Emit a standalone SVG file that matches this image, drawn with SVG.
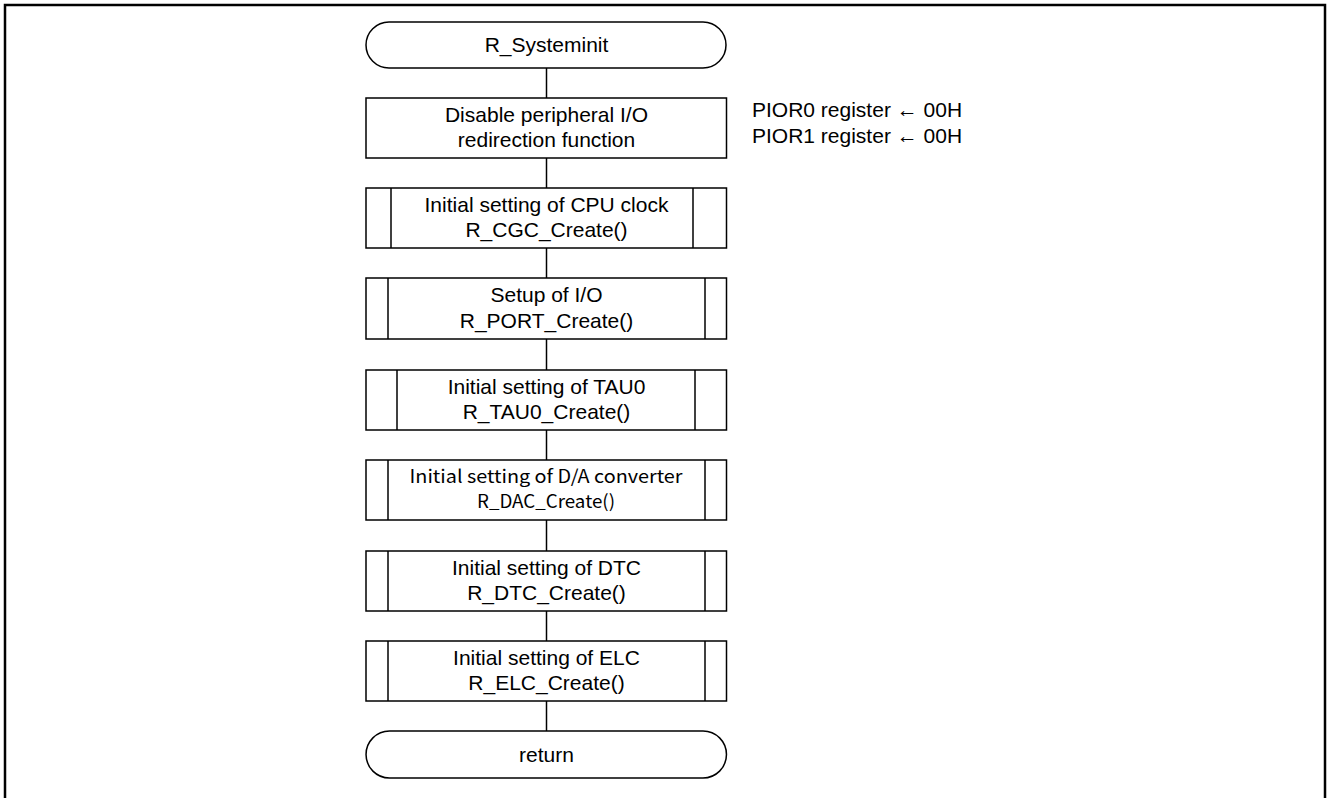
<svg xmlns="http://www.w3.org/2000/svg" width="1328" height="798" viewBox="0 0 1328 798">
<style>
.frame{fill:none;stroke:#000;stroke-width:2.5}
.box{fill:#fff;stroke:#000;stroke-width:1.5}
.ln{fill:none;stroke:#000;stroke-width:1.5}
text{font-family:"Liberation Sans",Arial,sans-serif;font-size:21px;fill:#000}
.c{text-anchor:middle}
.g{font-family:"Noto Sans CJK JP","DejaVu Sans",sans-serif;font-size:18px}
</style>
<rect x="5" y="5" width="1320" height="810" fill="#fff" class="frame"/>
<g id="connectors">
<line class="ln" x1="546.5" y1="68" x2="546.5" y2="98"/>
<line class="ln" x1="546.5" y1="158" x2="546.5" y2="188"/>
<line class="ln" x1="546.5" y1="248" x2="546.5" y2="278"/>
<line class="ln" x1="546.5" y1="339" x2="546.5" y2="370"/>
<line class="ln" x1="546.5" y1="430" x2="546.5" y2="460"/>
<line class="ln" x1="546.5" y1="520" x2="546.5" y2="551"/>
<line class="ln" x1="546.5" y1="611" x2="546.5" y2="641"/>
<line class="ln" x1="546.5" y1="701" x2="546.5" y2="731"/>
</g>
<g id="start">
<path class="box" d="M389,22 H703 A23,23 0 0 1 703,68 H389 A23,23 0 0 1 389,22 Z"/>
<text class="c" x="546.5" y="52">R_Systeminit</text>
</g>
<g id="disable">
<rect class="box" x="366" y="98" width="360.5" height="60"/>
<text class="c" x="546.5" y="121.5">Disable peripheral I/O</text>
<text class="c" x="546.5" y="146.5">redirection function</text>
</g>
<g id="pior-note">
<text x="752" y="117">PIOR0 register  ← 00H</text>
<text x="752" y="142.5">PIOR1 register  ← 00H</text>
</g>
<g id="cgc">
<rect class="box" x="366" y="188" width="360.5" height="60"/>
<line class="ln" x1="391" y1="188" x2="391" y2="248"/>
<line class="ln" x1="693" y1="188" x2="693" y2="248"/>
<text class="c" x="546.5" y="211.5">Initial setting of CPU clock</text>
<text class="c" x="546.5" y="237">R_CGC_Create()</text>
</g>
<g id="port">
<rect class="box" x="366" y="278" width="360.5" height="61"/>
<line class="ln" x1="388" y1="278" x2="388" y2="339"/>
<line class="ln" x1="705" y1="278" x2="705" y2="339"/>
<text class="c" x="546.5" y="302">Setup of I/O</text>
<text class="c" x="546.5" y="327.5">R_PORT_Create()</text>
</g>
<g id="tau0">
<rect class="box" x="366" y="370" width="360.5" height="60"/>
<line class="ln" x1="397" y1="370" x2="397" y2="430"/>
<line class="ln" x1="695" y1="370" x2="695" y2="430"/>
<text class="c" x="546.5" y="393.5">Initial setting of TAU0</text>
<text class="c" x="546.5" y="419">R_TAU0_Create()</text>
</g>
<g id="dac">
<rect class="box" x="366" y="460" width="360.5" height="60"/>
<line class="ln" x1="388" y1="460" x2="388" y2="520"/>
<line class="ln" x1="705" y1="460" x2="705" y2="520"/>
<text class="c g" x="546" y="483" textLength="273" lengthAdjust="spacingAndGlyphs">Initial setting of D/A converter</text>
<text class="c g" x="546" y="508" textLength="138" lengthAdjust="spacingAndGlyphs">R_DAC_Create()</text>
</g>
<g id="dtc">
<rect class="box" x="366" y="551" width="360.5" height="60"/>
<line class="ln" x1="388" y1="551" x2="388" y2="611"/>
<line class="ln" x1="705" y1="551" x2="705" y2="611"/>
<text class="c" x="546.5" y="574.5">Initial setting of DTC</text>
<text class="c" x="546.5" y="600">R_DTC_Create()</text>
</g>
<g id="elc">
<rect class="box" x="366" y="641" width="360.5" height="60"/>
<line class="ln" x1="388" y1="641" x2="388" y2="701"/>
<line class="ln" x1="705" y1="641" x2="705" y2="701"/>
<text class="c" x="546.5" y="664.5">Initial setting of ELC</text>
<text class="c" x="546.5" y="690">R_ELC_Create()</text>
</g>
<g id="return">
<path class="box" d="M389.5,731 H703 A23.5,23.5 0 0 1 703,778 H389.5 A23.5,23.5 0 0 1 389.5,731 Z"/>
<text class="c" x="546.5" y="761.5">return</text>
</g>
</svg>
